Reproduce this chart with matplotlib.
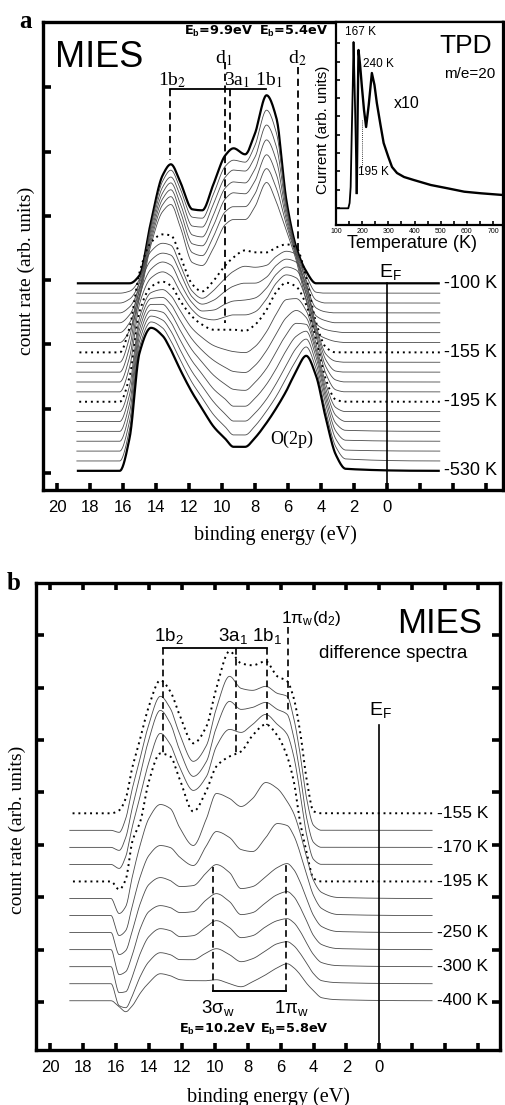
import numpy as np
import matplotlib
matplotlib.use('Agg')
import matplotlib.pyplot as plt

plt.rcParams['font.family'] = ['Liberation Sans', 'DejaVu Sans']
plt.rcParams['mathtext.fontset'] = 'custom'
plt.rcParams['mathtext.rm'] = 'Liberation Sans'
plt.rcParams['mathtext.it'] = 'Liberation Sans:italic'
plt.rcParams['mathtext.bf'] = 'Liberation Sans:bold'

SERIF = ['Liberation Serif', 'DejaVu Serif']

# ------------------------------------------------------------------ data
# Panel a: MIES spectra (height above each curve's own baseline) vs binding energy
energy_a = [18.8, 16.2, 15.6, 15.0, 14.3, 13.6, 13.1, 12.5, 11.8, 11.2, 10.5, 9.8, 9.3,
            8.6, 8.0, 7.3, 6.7, 6.1, 5.5, 4.9, 4.3, 3.7, 3.1, 2.5, -3.2]
a00 = [0, 0, 0, 8, 62, 108, 119, 100, 74, 73, 100, 128, 135, 129, 150, 188, 165, 83, 36, 12, 0, 0, 0, 0, 0]
a01 = [0, 0, 2, 14, 68, 112, 123, 103, 76, 75, 100, 127, 133, 131, 148, 183, 160, 88, 43, 18, 1, 0, 0, 0, 0]
a02 = [0, 0, 4, 20, 74, 116, 126, 106, 77, 76, 100, 126, 133, 132, 146, 178, 156, 93, 51, 23, 3, 0, 0, 0, 0]
a03 = [0, 0, 6, 26, 80, 120, 130, 108, 78, 76, 99, 125, 131, 130, 144, 173, 152, 98, 59, 28, 5, 1, 0, 0, 0]
a04 = [0, 0, 8, 32, 86, 124, 133, 110, 79, 77, 98, 124, 130, 129, 142, 168, 148, 103, 67, 33, 7, 2, 0, 0, 0]
a05 = [0, 0, 10, 38, 92, 128, 136, 112, 80, 77, 97, 121, 126, 126, 139, 164, 144, 108, 75, 38, 9, 3, 1, 0, 0]
a06 = [0, 0, 12, 44, 98, 131, 138, 114, 80, 77, 95, 118, 123, 123, 136, 160, 140, 112, 82, 42, 10, 4, 1, 0, 0]
a07 = [0, 0, 25, 80, 110, 118, 117, 95, 68, 61, 72, 87, 95, 102, 100, 100, 105, 108, 105, 75, 30, 5, 0, 0, 0]
a08 = [0, 0, 25, 82, 111, 119, 117, 96, 71, 64, 72, 84, 91, 96, 95, 97, 106, 111, 108, 80, 37, 8, 1, 0, 0]
a09 = [0, 0, 25, 84, 112, 119, 117, 98, 75, 68, 72, 81, 86, 89, 89, 95, 107, 113, 110, 85, 44, 12, 1, 0, 0]
a10 = [0, 0, 25, 86, 113, 120, 117, 98, 79, 71, 72, 78, 81, 82, 84, 94, 108, 115, 112, 89, 50, 15, 2, 0, 0]
a11 = [0, 0, 25, 88, 114, 120, 116, 99, 82, 74, 72, 75, 77, 77, 80, 93, 109, 117, 114, 93, 56, 18, 2, 0, 0]
a12 = [0, 0, 25, 90, 115, 120, 116, 100, 85, 77, 72, 72, 72, 71, 77, 92, 110, 119, 115, 97, 62, 22, 2, 0, 0]
a13 = [0, 0, 26, 94, 119, 122, 116, 100, 83, 74, 66, 62, 60, 59, 65, 80, 98, 112, 113, 101, 68, 27, 4, 0, 0]
a14 = [0, 0, 27, 98, 123, 124, 117, 100, 82, 71, 61, 54, 50, 49, 56, 71, 88, 104, 111, 104, 73, 32, 6, 0, 0]
a15 = [0, 0, 28, 102, 127, 127, 118, 100, 81, 69, 56, 47, 42, 41, 49, 63, 80, 97, 108, 107, 79, 37, 8, 1, 0]
a16 = [0, 0, 29, 106, 131, 129, 119, 100, 80, 67, 52, 42, 35, 35, 43, 57, 73, 91, 105, 110, 84, 42, 10, 1, 0]
a17 = [0, 0, 30, 110, 135, 131, 120, 100, 79, 65, 49, 37, 30, 30, 38, 52, 68, 86, 103, 112, 88, 46, 12, 1, 0]
a18 = [0, 0, 32, 114, 139, 133, 120, 100, 78, 63, 46, 34, 26, 26, 35, 50, 65, 83, 101, 114, 92, 49, 14, 2, 0]
a19 = [0, 0, 33, 118, 143, 135, 121, 100, 78, 62, 44, 32, 24, 24, 33, 48, 63, 80, 100, 115, 95, 52, 16, 2, 0]
spectra_a = [a00, a01, a02, a03, a04, a05, a06, a07, a08, a09,
             a10, a11, a12, a13, a14, a15, a16, a17, a18, a19]
labels_a = {0: '-100 K', 7: '-155 K', 12: '-195 K', 19: '-530 K'}
dotted_a = [7, 12]
thick_a = [0, 19]

# Inset: TPD m/e=20
tpd_T = [100, 147, 152, 156, 160, 164, 167, 171, 175, 179]
tpd_I = [16.7, 16.7, 22, 38, 90, 138, 183, 140, 90, 32]
tpd10_T = [179, 183, 186, 192, 199, 207, 215, 225, 237, 247, 256, 270, 282, 300, 314,
           333, 360, 397, 462, 526, 590, 654, 738]
tpd10_I = [32, 120, 175, 160, 138, 115, 98, 120, 152, 140, 122, 100, 82, 68, 58,
           52, 48, 45, 40, 36.7, 33.3, 31.7, 30]

# Panel b: difference spectra
energy_b = [18.8, 16.3, 15.8, 15.4, 15.0, 14.5, 14.0, 13.3, 12.7, 12.1, 11.3, 10.5, 9.9,
            9.1, 8.4, 7.7, 6.9, 6.2, 5.6, 5.2, 4.8, 4.4, 4.0, 3.5, 2.5, -3.2]
b00 = [0, 0, 3, 15, 46, 76, 107, 133, 122, 97, 70, 87, 125, 162, 150, 148, 152, 137, 132, 115, 80, 32, 2, 0, 0, 0]
b01 = [0, 0, -2, 12, 42, 74, 106, 134, 122, 95, 69, 85, 122, 154, 142, 140, 144, 137, 134, 112, 75, 30, 5, 0, 0, 0]
b02 = [0, 0, -3, 10, 40, 74, 108, 137, 124, 96, 71, 86, 120, 146, 138, 140, 145, 138, 133, 110, 72, 28, 5, 0, 0, 0]
b03 = [0, 0, -4, 8, 38, 70, 102, 131, 120, 96, 74, 88, 118, 135, 132, 140, 150, 140, 130, 108, 70, 28, 5, 0, 0, 0]
b04 = [0, 0, -8, 2, 40, 61, 100, 128, 125, 101, 70, 91, 115, 125, 130, 146, 157, 146, 125, 100, 58, 28, 3, 0, 0, 0]
b05 = [0, 0, -15, -8, 22, 55, 80, 94, 90, 70, 53, 80, 105, 100, 92, 100, 116, 110, 97, 85, 65, 40, 18, 6, 1, 0]
b06 = [0, 0, -20, -15, 10, 40, 60, 70, 68, 58, 50, 70, 84, 78, 66, 64, 78, 92, 90, 80, 62, 40, 20, 7, 1, 0]
b07 = [0, 0, -22, -18, 2, 30, 48, 55, 52, 46, 47, 60, 68, 60, 44, 46, 56, 65, 69, 63, 50, 33, 17, 6, 1, 0]
b08 = [0, 0, -25, -22, -5, 22, 38, 44, 42, 37, 38, 50, 56, 48, 35, 37, 47, 55, 58, 53, 42, 28, 14, 5, 1, 0]
b09 = [0, 0, -26, -25, -10, 14, 30, 38, 36, 30, 31, 40, 46, 39, 29, 31, 40, 46, 48, 44, 35, 23, 12, 4, 1, 0]
b10 = [0, 0, -22, -24, -12, 8, 22, 31, 29, 24, 24, 31, 35, 29, 22, 25, 33, 40, 42, 38, 30, 20, 10, 3, 1, 0]
b11 = [0, 0, -6, -11, -5, 8, 18, 27, 25, 21, 20, 20, 21, 17, 14, 19, 26, 33, 37, 33, 26, 17, 10, 3, 1, 0]
spectra_b = [b00, b01, b02, b03, b04, b05, b06, b07, b08, b09, b10, b11]
labels_b = {0: '-155 K', 2: '-170 K', 4: '-195 K', 7: '-250 K', 9: '-300 K', 11: '-400 K'}
dotted_b = [0, 4]

xticks = list(range(20, -7, -2))
xticklabels = [str(v) if v >= 0 else '' for v in xticks]

# ------------------------------------------------------------------ helpers
W, H = 505, 1105
fig = plt.figure(figsize=(W / 100, H / 100), dpi=100)


def fx(px):
    return px / W


def fy(py):
    return 1 - py / H


def ftext(px, py, s, **kw):
    return fig.text(fx(px), fy(py), s, **kw)


def smooth(xk, yk, n=700):
    """Monotone cubic (PCHIP) curve through the read-off points, for drawing."""
    x = np.asarray(xk, float)[::-1]
    y = np.asarray(yk, float)[::-1]
    h = np.diff(x)
    d = np.diff(y) / h
    m = np.zeros_like(y)
    for k in range(1, len(x) - 1):
        if d[k - 1] * d[k] > 0:
            w1 = 2 * h[k] + h[k - 1]
            w2 = h[k] + 2 * h[k - 1]
            m[k] = (w1 + w2) / (w1 / d[k - 1] + w2 / d[k])
    xs = np.linspace(x[0], x[-1], n)
    j = np.clip(np.searchsorted(x, xs) - 1, 0, len(h) - 1)
    t = (xs - x[j]) / h[j]
    h00 = 2 * t**3 - 3 * t**2 + 1
    h10 = t**3 - 2 * t**2 + t
    h01 = -2 * t**3 + 3 * t**2
    h11 = t**3 - t**2
    ys = h00 * y[j] + h10 * h[j] * m[j] + h01 * y[j + 1] + h11 * h[j] * m[j + 1]
    return xs, ys


def frame(ax, lw=2.4):
    for s in ax.spines.values():
        s.set_linewidth(lw)
        s.set_color('black')


DOT = (0, (1.0, 2.0))
DASH = (0, (4, 2.5))
THIN = dict(color='#4a4a4a', lw=0.6)
EBFONT = dict(family=['DejaVu Sans'], fontweight='bold', fontsize=9.3, ha='center', va='center')

# ------------------------------------------------------------------ panel a
axA = fig.add_axes([fx(43), fy(490), fx(503) - fx(43), fy(22) - fy(490)])
axA.set_xlim(20.85, -7.03)
axA.set_ylim(0, 468)
frame(axA)
axA.set_xticks(xticks)
axA.set_xticklabels(xticklabels)
axA.tick_params(axis='x', direction='in', length=5, width=2.6, labelsize=12, pad=7)
axA.set_yticks([17 + 64.3 * k for k in range(7)])
axA.tick_params(axis='y', direction='in', length=6, width=2.6, labelleft=False)

for i, row in enumerate(spectra_a):
    base = 206.7 - 9.87 * i
    xs, ys = smooth(energy_a, row)
    if i in thick_a:
        axA.plot(xs, base + ys, color='black', lw=1.6, solid_capstyle='butt')
    elif i in dotted_a:
        axA.plot(xs, base + ys, color='black', lw=1.4, ls=DOT)
    else:
        axA.plot(xs, base + ys, **THIN)
    if i in labels_a:
        axA.text(-3.45, base, labels_a[i], fontsize=13, va='center', ha='left')

# E_F line
axA.plot([0, 0], [0, 206.7], color='black', lw=1.2)
ftext(390, 272, r'E$_\mathrm{F}$', fontsize=14, ha='center', va='center')

# bracket and dashed markers
axA.plot([13.15, 7.33], [400.7, 400.7], color='black', lw=1.3)
axA.plot([13.15, 13.15], [400.7, 330], color='black', lw=1.3, ls=DASH)
axA.plot([9.52, 9.52], [400.7, 345], color='black', lw=1.3, ls=DASH)
axA.plot([9.8, 9.8], [428, 167], color='black', lw=1.3, ls=DASH)
axA.plot([5.4, 5.4], [423, 240], color='black', lw=1.3, ls=DASH)

ftext(172, 80, r'1b$_2$', fontsize=14, ha='center', va='center', family=SERIF, math_fontfamily='stix')
ftext(253, 80, r'3a$_1$ 1b$_1$', fontsize=14, ha='center', va='center', family=SERIF, math_fontfamily='stix')
ftext(224, 58, r'd$_1$', fontsize=14, ha='center', va='center', family=SERIF, math_fontfamily='stix')
ftext(297, 58, r'd$_2$', fontsize=14, ha='center', va='center', family=SERIF, math_fontfamily='stix')
ftext(219, 31, r'E$_\mathbf{b}$=9.9eV', **EBFONT)
ftext(294, 31, r'E$_\mathbf{b}$=5.4eV', **EBFONT)
ftext(55, 67, 'MIES', fontsize=26, ha='left', va='baseline')
ftext(292, 439, 'O(2p)', fontsize=13, ha='center', va='center', family=SERIF)
ftext(25, 21, 'a', fontsize=18, fontweight='bold', ha='center', va='center', family=SERIF)
ftext(26, 271, 'count rate (arb. units)', fontsize=14, rotation=90, ha='center', va='center', family=SERIF)
ftext(275, 535, 'binding energy (eV)', fontsize=14.5, ha='center', va='center', family=SERIF)

# ------------------------------------------------------------------ inset
axI = fig.add_axes([fx(336), fy(225), fx(503) - fx(336), fy(22) - fy(225)])
axI.set_xlim(100, 738)
axI.set_ylim(0, 203)
frame(axI, 1.6)
axI.plot(tpd_T, tpd_I, color='black', lw=1.3)
axI.plot(tpd10_T, tpd10_I, color='black', lw=1.7)
axI.plot([200, 200], [105, 58], color='black', lw=0.6, ls=(0, (1, 1.5)))
axI.set_xticks(list(range(100, 701, 100)))
axI.set_xticks(list(range(150, 701, 100)), minor=True)
axI.tick_params(axis='x', which='both', direction='in', length=3, width=1.2, labelsize=5, pad=2)
axI.set_yticks([17 + 18.3 * k for k in range(10)])
axI.tick_params(axis='y', direction='in', length=3, width=1.2, labelleft=False)
ftext(323, 130, 'Current (arb. units)', fontsize=11, rotation=90, ha='center', va='center')
ftext(412, 243, 'Temperature (K)', fontsize=13, ha='center', va='center')
ftext(492, 53, 'TPD', fontsize=19, ha='right', va='baseline')
ftext(495, 78, 'm/e=20', fontsize=11, ha='right', va='baseline')
ftext(407, 103, 'x10', fontsize=11.5, ha='center', va='center')
ftext(345, 32, '167 K', fontsize=8.5, ha='left', va='center')
ftext(363, 64, '240 K', fontsize=8.5, ha='left', va='center')
ftext(358, 172, '195 K', fontsize=8.5, ha='left', va='center')

# ------------------------------------------------------------------ panel b
axB = fig.add_axes([fx(36), fy(1050), fx(500) - fx(36), fy(582.7) - fy(1050)])
axB.set_xlim(20.85, -7.32)
axB.set_ylim(0, 467.3)
frame(axB)
axB.set_xticks(xticks)
axB.set_xticklabels(xticklabels)
axB.tick_params(axis='x', direction='in', length=5, width=2.6, labelsize=12, pad=7,
                top=True)
yt_b = [48 + 52.4 * k for k in range(8)]
axB.set_yticks(yt_b)
axB.tick_params(axis='y', direction='in', length=6, width=2.6, labelleft=False, right=True)

for i, row in enumerate(spectra_b):
    base = 236.7 - 17.04 * i
    xs, ys = smooth(energy_b, row)
    if i in dotted_b:
        axB.plot(xs, base + ys, color='black', lw=1.4, ls=DOT)
    else:
        axB.plot(xs, base + ys, **THIN)
    if i in labels_b:
        axB.text(-3.5, base, labels_b[i], fontsize=12.5, va='center', ha='left')

axB.plot([0, 0], [0, 325], color='black', lw=1.2)
ftext(380, 710, r'E$_\mathrm{F}$', fontsize=14, ha='center', va='center')

axB.plot([13.12, 6.84], [401.7, 401.7], color='black', lw=1.3)
for e, y0, y1 in [(13.12, 401.7, 297), (8.71, 401.7, 295), (6.84, 401.7, 325), (5.53, 423.3, 337)]:
    axB.plot([e, e], [y0, y1], color='black', lw=1.2, ls=DASH)
axB.plot([10.08, 5.69], [59.3, 59.3], color='black', lw=1.4)
for e, y1 in [(10.08, 183.3), (5.69, 186.7)]:
    axB.plot([e, e], [59.3, y1], color='black', lw=1.2, ls=DASH)

ftext(169, 636, r'1b$_2$', fontsize=13.5, ha='center', va='center')
ftext(250, 636, r'3a$_1$ 1b$_1$', fontsize=13.5, ha='center', va='center')
ftext(311, 618, r'1π$_\mathrm{w}$(d$_2$)', fontsize=12.5, ha='center', va='center')
ftext(482, 633, 'MIES', fontsize=25, ha='right', va='baseline')
ftext(393, 653, 'difference spectra', fontsize=13.5, ha='center', va='center')
ftext(218, 1008, r'3σ$_\mathrm{w}$', fontsize=13.5, ha='center', va='center')
ftext(292, 1008, r'1π$_\mathrm{w}$', fontsize=13.5, ha='center', va='center')
ftext(218, 1029, r'E$_\mathbf{b}$=10.2eV', **EBFONT)
ftext(294, 1029, r'E$_\mathbf{b}$=5.8eV', **EBFONT)
ftext(14, 583, 'b', fontsize=18, fontweight='bold', ha='center', va='center', family=SERIF)
ftext(17, 830, 'count rate (arb. units)', fontsize=14, rotation=90, ha='center', va='center', family=SERIF)
ftext(268, 1097, 'binding energy (eV)', fontsize=14.5, ha='center', va='center', family=SERIF)

fig.savefig('out.png', dpi=100)
